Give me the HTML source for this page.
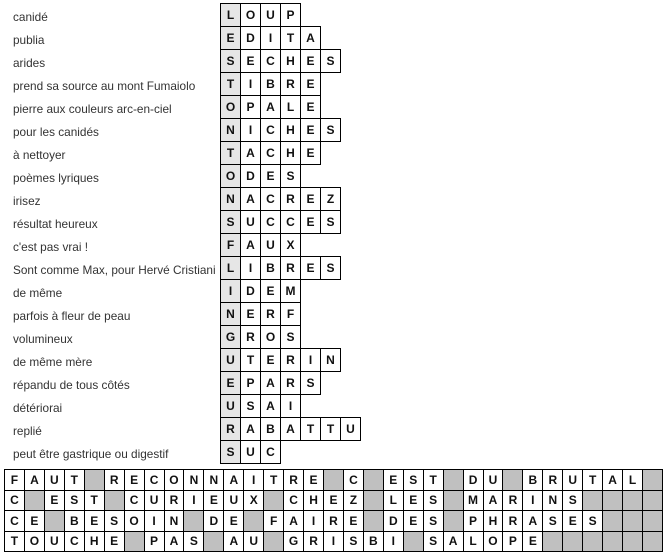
<!DOCTYPE html>
<html><head><meta charset="utf-8"><style>
body{margin:0;width:667px;height:554px;background:#fff;position:relative;overflow:hidden;font-family:"Liberation Sans",Arial,sans-serif}
.c{position:absolute;left:13px;font-size:11.8px;color:#333;line-height:23px;white-space:nowrap}
table{position:absolute;border-collapse:collapse}
td{border:1px solid #000;padding:0;text-align:center;font-size:12px;font-weight:bold;color:#111}
.t td{width:19px;height:22px}
.t td:first-child{background:#e6e6e6}
.b{left:4px;top:469px}
.b td{width:18.94px;height:19.5px}
.g{background:#c0c0c0}
</style></head><body>
<div class="c" style="top:6px">canidé</div>
<div class="c" style="top:29px">publia</div>
<div class="c" style="top:52px">arides</div>
<div class="c" style="top:75px">prend sa source au mont Fumaiolo</div>
<div class="c" style="top:98px">pierre aux couleurs arc-en-ciel</div>
<div class="c" style="top:121px">pour les canidés</div>
<div class="c" style="top:144px">à nettoyer</div>
<div class="c" style="top:167px">poèmes lyriques</div>
<div class="c" style="top:190px">irisez</div>
<div class="c" style="top:213px">résultat heureux</div>
<div class="c" style="top:236px">c'est pas vrai !</div>
<div class="c" style="top:259px">Sont comme Max, pour Hervé Cristiani</div>
<div class="c" style="top:282px">de même</div>
<div class="c" style="top:305px">parfois à fleur de peau</div>
<div class="c" style="top:328px">volumineux</div>
<div class="c" style="top:351px">de même mère</div>
<div class="c" style="top:374px">répandu de tous côtés</div>
<div class="c" style="top:397px">détériorai</div>
<div class="c" style="top:420px">replié</div>
<div class="c" style="top:443px">peut être gastrique ou digestif</div>

<table class="t" style="left:220px;top:3px"><tr><td>L</td><td>O</td><td>U</td><td>P</td></tr></table>
<table class="t" style="left:220px;top:26px"><tr><td>E</td><td>D</td><td>I</td><td>T</td><td>A</td></tr></table>
<table class="t" style="left:220px;top:49px"><tr><td>S</td><td>E</td><td>C</td><td>H</td><td>E</td><td>S</td></tr></table>
<table class="t" style="left:220px;top:72px"><tr><td>T</td><td>I</td><td>B</td><td>R</td><td>E</td></tr></table>
<table class="t" style="left:220px;top:95px"><tr><td>O</td><td>P</td><td>A</td><td>L</td><td>E</td></tr></table>
<table class="t" style="left:220px;top:118px"><tr><td>N</td><td>I</td><td>C</td><td>H</td><td>E</td><td>S</td></tr></table>
<table class="t" style="left:220px;top:141px"><tr><td>T</td><td>A</td><td>C</td><td>H</td><td>E</td></tr></table>
<table class="t" style="left:220px;top:164px"><tr><td>O</td><td>D</td><td>E</td><td>S</td></tr></table>
<table class="t" style="left:220px;top:187px"><tr><td>N</td><td>A</td><td>C</td><td>R</td><td>E</td><td>Z</td></tr></table>
<table class="t" style="left:220px;top:210px"><tr><td>S</td><td>U</td><td>C</td><td>C</td><td>E</td><td>S</td></tr></table>
<table class="t" style="left:220px;top:233px"><tr><td>F</td><td>A</td><td>U</td><td>X</td></tr></table>
<table class="t" style="left:220px;top:256px"><tr><td>L</td><td>I</td><td>B</td><td>R</td><td>E</td><td>S</td></tr></table>
<table class="t" style="left:220px;top:279px"><tr><td>I</td><td>D</td><td>E</td><td>M</td></tr></table>
<table class="t" style="left:220px;top:302px"><tr><td>N</td><td>E</td><td>R</td><td>F</td></tr></table>
<table class="t" style="left:220px;top:325px"><tr><td>G</td><td>R</td><td>O</td><td>S</td></tr></table>
<table class="t" style="left:220px;top:348px"><tr><td>U</td><td>T</td><td>E</td><td>R</td><td>I</td><td>N</td></tr></table>
<table class="t" style="left:220px;top:371px"><tr><td>E</td><td>P</td><td>A</td><td>R</td><td>S</td></tr></table>
<table class="t" style="left:220px;top:394px"><tr><td>U</td><td>S</td><td>A</td><td>I</td></tr></table>
<table class="t" style="left:220px;top:417px"><tr><td>R</td><td>A</td><td>B</td><td>A</td><td>T</td><td>T</td><td>U</td></tr></table>
<table class="t" style="left:220px;top:440px"><tr><td>S</td><td>U</td><td>C</td></tr></table>

<table class="b">
<tr><td>F</td><td>A</td><td>U</td><td>T</td><td class="g"></td><td>R</td><td>E</td><td>C</td><td>O</td><td>N</td><td>N</td><td>A</td><td>I</td><td>T</td><td>R</td><td>E</td><td class="g"></td><td>C</td><td class="g"></td><td>E</td><td>S</td><td>T</td><td class="g"></td><td>D</td><td>U</td><td class="g"></td><td>B</td><td>R</td><td>U</td><td>T</td><td>A</td><td>L</td><td class="g"></td></tr>
<tr><td>C</td><td class="g"></td><td>E</td><td>S</td><td>T</td><td class="g"></td><td>C</td><td>U</td><td>R</td><td>I</td><td>E</td><td>U</td><td>X</td><td class="g"></td><td>C</td><td>H</td><td>E</td><td>Z</td><td class="g"></td><td>L</td><td>E</td><td>S</td><td class="g"></td><td>M</td><td>A</td><td>R</td><td>I</td><td>N</td><td>S</td><td class="g"></td><td class="g"></td><td class="g"></td><td class="g"></td></tr>
<tr><td>C</td><td>E</td><td class="g"></td><td>B</td><td>E</td><td>S</td><td>O</td><td>I</td><td>N</td><td class="g"></td><td>D</td><td>E</td><td class="g"></td><td>F</td><td>A</td><td>I</td><td>R</td><td>E</td><td class="g"></td><td>D</td><td>E</td><td>S</td><td class="g"></td><td>P</td><td>H</td><td>R</td><td>A</td><td>S</td><td>E</td><td>S</td><td class="g"></td><td class="g"></td><td class="g"></td></tr>
<tr><td>T</td><td>O</td><td>U</td><td>C</td><td>H</td><td>E</td><td class="g"></td><td>P</td><td>A</td><td>S</td><td class="g"></td><td>A</td><td>U</td><td class="g"></td><td>G</td><td>R</td><td>I</td><td>S</td><td>B</td><td>I</td><td class="g"></td><td>S</td><td>A</td><td>L</td><td>O</td><td>P</td><td>E</td><td class="g"></td><td class="g"></td><td class="g"></td><td class="g"></td><td class="g"></td><td class="g"></td></tr>
</table>
</body></html>
